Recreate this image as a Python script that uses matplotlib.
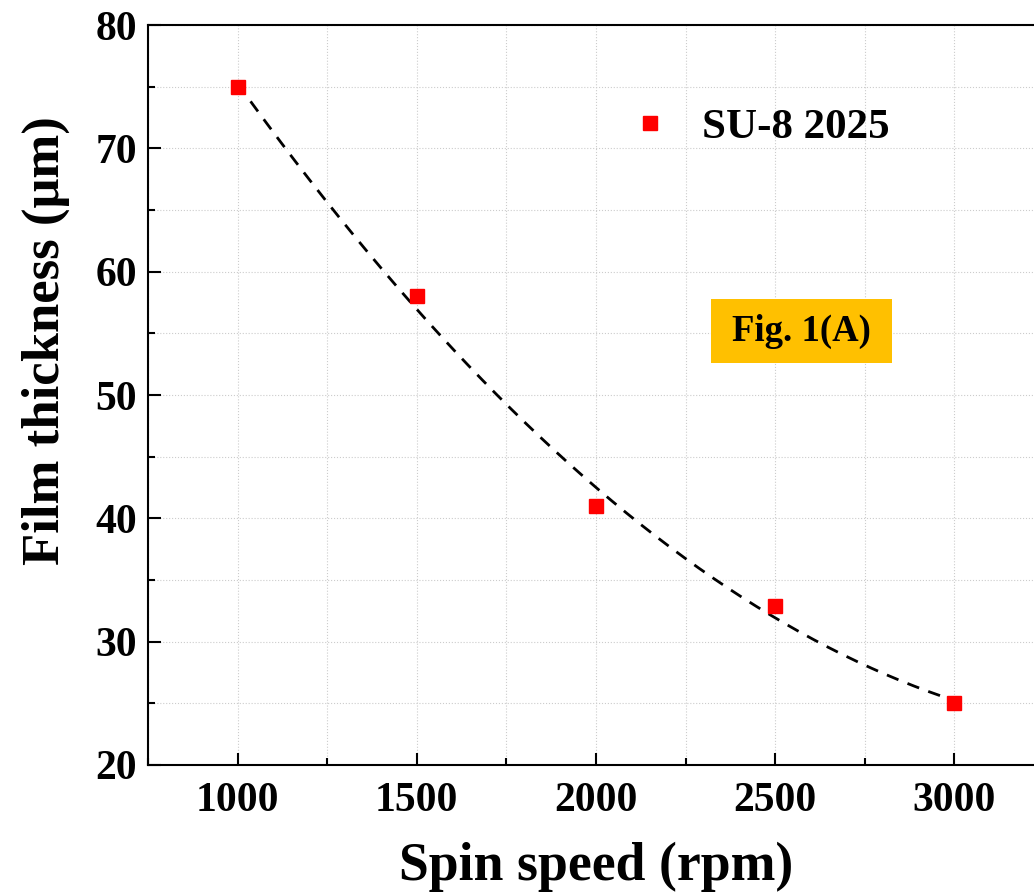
import numpy as np
import matplotlib
matplotlib.use('Agg')
import matplotlib.pyplot as plt
from matplotlib.ticker import MultipleLocator
from matplotlib.patches import Rectangle

spin = [1000, 1500, 2000, 2500, 3000]
thick = [75.0, 58.0, 41.0, 32.9, 25.0]

plt.rcParams['font.family'] = ['Liberation Serif', 'DejaVu Serif']
plt.rcParams['font.weight'] = 'bold'

fig = plt.figure(figsize=(10.34, 8.94), dpi=100)
ax = fig.add_axes([0.1431, 0.1443, 0.8665, 0.8277])

# quadratic fit through the points
c = np.polyfit(spin, thick, 2)
xf = np.linspace(1000, 3000, 200)
ax.plot(xf, np.polyval(c, xf), '--', color='black', lw=2.0, dashes=(4.5, 3.5), zorder=2)
ax.plot(spin, thick, 's', color='#ff0000', ms=10, mec='#ff0000', zorder=3, label='SU-8 2025')

ax.set_xlim(750, 3250)
ax.set_ylim(20, 80)
ax.xaxis.set_major_locator(MultipleLocator(500))
ax.xaxis.set_minor_locator(MultipleLocator(250))
ax.yaxis.set_major_locator(MultipleLocator(10))
ax.yaxis.set_minor_locator(MultipleLocator(5))
ax.grid(True, which='both', ls=':', color='#cccccc', lw=0.8, zorder=0)
ax.set_axisbelow(True)

ax.tick_params(which='both', direction='in', width=1.5, labelsize=30, top=False, right=False)
ax.tick_params(which='major', length=9)
ax.tick_params(which='minor', length=5)
ax.tick_params(axis='x', which='major', pad=12)
ax.tick_params(axis='y', which='major', pad=8)
for s in ax.spines.values():
    s.set_linewidth(1.5)

ax.set_xlabel('Spin speed (rpm)', fontsize=38.7, fontweight='bold', labelpad=16)
ax.set_ylabel('Film thickness (\u03bcm)', fontsize=38, fontweight='bold')
ax.yaxis.set_label_coords(-0.087, 0.573)

ax.legend(loc='upper left', bbox_to_anchor=(0.481, 0.940), frameon=False, fontsize=31,
          handletextpad=0.45, handlelength=1.5)

ax.add_patch(Rectangle((0.628, 0.543), 0.202, 0.0865, transform=ax.transAxes,
                       fc='#ffc000', ec='none', zorder=4))
ax.text(0.729, 0.586, 'Fig. 1(A)', transform=ax.transAxes, fontsize=26.5,
        fontweight='bold', ha='center', va='center', zorder=5)

fig.savefig('out.png', dpi=100)
